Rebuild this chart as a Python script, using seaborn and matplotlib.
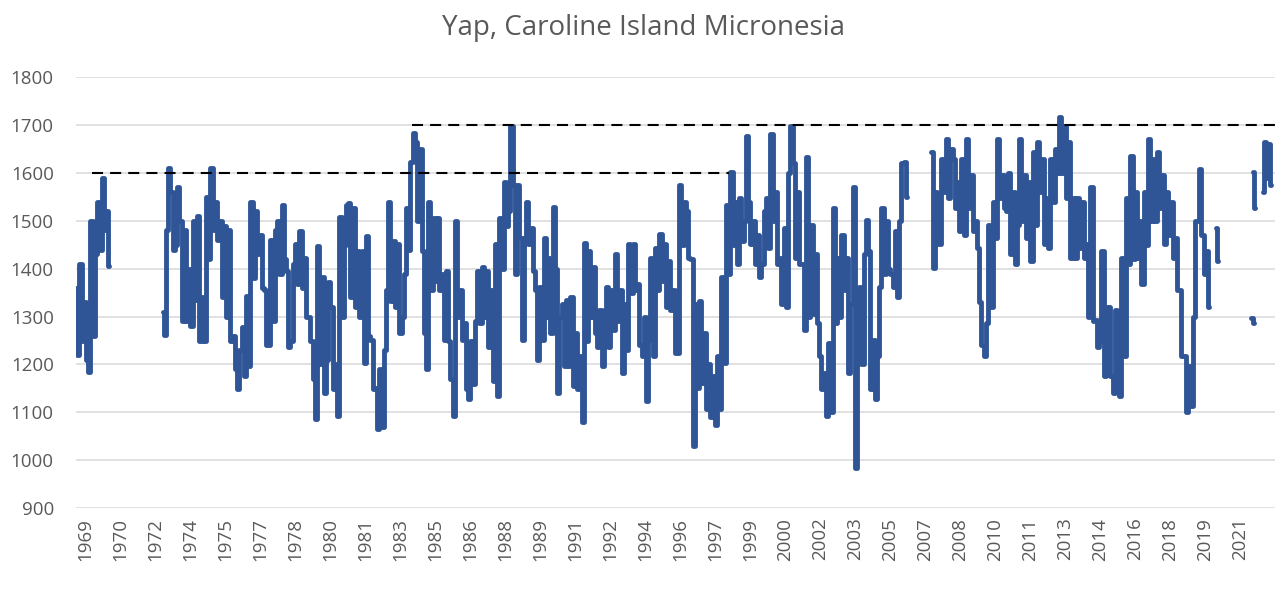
import numpy as np
import pandas as pd
import seaborn as sns
import matplotlib.pyplot as plt

# sea level (mm), values every 0.1 year
seg_1969 = [1360, 1220, 1410, 1250, 1330, 1210, 1185, 1500, 1260, 1430,
            1540, 1440, 1590, 1480, 1520, 1405]

seg_1972 = [1310, 1262, 1480, 1610, 1560, 1440, 1450, 1570, 1500, 1290,
            1480, 1290, 1400, 1280, 1500, 1335, 1510, 1250, 1340, 1248,
            1550, 1420, 1610, 1480, 1540, 1460, 1500, 1340, 1490, 1300,
            1480, 1250, 1260, 1190, 1148, 1230, 1278, 1175, 1344, 1196,
            1540, 1380, 1520, 1430, 1470, 1360, 1355, 1240, 1240, 1460,
            1290, 1480, 1500, 1390, 1533, 1420, 1396, 1237, 1250, 1410,
            1451, 1368, 1478, 1360, 1423, 1300, 1300, 1250, 1169, 1086,
            1447, 1200, 1382, 1141, 1210, 1372, 1320, 1148, 1200, 1093,
            1509, 1300, 1450, 1533, 1537, 1340, 1526, 1320, 1437, 1299,
            1437, 1203, 1468, 1260, 1251, 1148, 1150, 1066, 1190, 1070,
            1230, 1355, 1540, 1333, 1458, 1320, 1451, 1265, 1299, 1389,
            1526, 1440, 1622, 1684, 1664, 1500, 1650, 1437, 1265, 1190,
            1540, 1355, 1506, 1375, 1506, 1355, 1389, 1251, 1396, 1250,
            1169, 1093, 1499, 1300, 1355, 1251, 1286, 1148, 1127, 1250,
            1160, 1290, 1396, 1286, 1403, 1299, 1396, 1237, 1355, 1165,
            1451, 1134, 1506, 1400, 1582, 1490, 1520, 1698, 1575, 1389,
            1575, 1465, 1251, 1465, 1540, 1451, 1485, 1396, 1355, 1210,
            1361, 1251, 1465, 1300, 1423, 1265, 1530, 1400, 1141, 1300,
            1327, 1196, 1334, 1196, 1341, 1155, 1265, 1148, 1217, 1079,
            1454, 1250, 1437, 1300, 1403, 1265, 1237, 1313, 1196, 1310,
            1361, 1237, 1355, 1272, 1430, 1290, 1355, 1182, 1327, 1230,
            1451, 1350, 1451, 1355, 1368, 1240, 1217, 1300, 1124, 1251,
            1423, 1217, 1444, 1355, 1472, 1375, 1451, 1320, 1416, 1313,
            1355, 1224, 1224, 1575, 1450, 1540, 1520, 1423, 1420, 1030,
            1327, 1150, 1333, 1162, 1265, 1107, 1200, 1090, 1176, 1073,
            1217, 1107, 1382, 1203, 1533, 1389, 1602, 1450, 1540, 1409,
            1547, 1458, 1500, 1677, 1540, 1451, 1499, 1409, 1471, 1382,
            1410, 1520, 1547, 1444, 1681, 1500, 1561, 1409, 1423, 1327,
            1485, 1320, 1600, 1698, 1620, 1423, 1561, 1409, 1409, 1272,
            1633, 1300, 1492, 1306, 1430, 1286, 1217, 1148, 1183, 1093,
            1245, 1100, 1526, 1286, 1423, 1300, 1471, 1355, 1423, 1183,
            1327, 1571, 983, 1300, 1361, 1200, 1430, 1502, 1437, 1148,
            1251, 1128, 1217, 1361, 1526, 1389, 1500, 1400, 1389, 1361,
            1478, 1340, 1500, 1620, 1622, 1550]

seg_2007 = [1643, 1402, 1561, 1451, 1451, 1629, 1560, 1671, 1547, 1650,
            1629, 1526, 1581, 1478, 1629, 1471, 1671, 1526, 1595, 1478,
            1500, 1444, 1330, 1240, 1217, 1286, 1492, 1320, 1540, 1465,
            1671, 1547, 1595, 1526, 1520, 1600, 1430, 1560, 1409, 1492,
            1671, 1500, 1595, 1465, 1581, 1416, 1643, 1492, 1664, 1561,
            1629, 1451, 1547, 1444, 1629, 1540, 1650, 1600, 1718, 1600,
            1698, 1547, 1664, 1423, 1547, 1423, 1547, 1444, 1540, 1423,
            1451, 1300, 1571, 1290, 1293, 1237, 1250, 1437, 1176, 1320,
            1320, 1176, 1141, 1313, 1231, 1134, 1423, 1217, 1547, 1409,
            1636, 1420, 1561, 1423, 1499, 1368, 1561, 1450, 1671, 1500,
            1629, 1499, 1643, 1526, 1595, 1451, 1561, 1471, 1540, 1423,
            1465, 1355, 1355, 1217, 1217, 1100, 1196, 1114, 1300, 1500,
            1500, 1609, 1471, 1389, 1437, 1320]

seg_2020 = [1485, 1416]
seg_2021a = [1296, 1286]
seg_2021b = [1602, 1526]
seg_2022 = [1560, 1664, 1590, 1660, 1575]

seg_values = [seg_1969, seg_1972, seg_2007, seg_2020, seg_2021a, seg_2021b, seg_2022]
seg_starts = [1968.9, 1972.8, 2007.4, 2020.2, 2021.8, 2021.85, 2022.3]

# dashed reference levels
ref_levels = [1600, 1700]
ref_from = [1969.6, 1984.0]
ref_to = [1998.3, 2023.0]

tick_labels = ['1969', '1970', '1972', '1974', '1975', '1977', '1978', '1980',
               '1981', '1983', '1985', '1986', '1988', '1989', '1991', '1992',
               '1994', '1996', '1997', '1999', '2000', '2002', '2003', '2005',
               '2007', '2008', '2010', '2011', '2013', '2014', '2016', '2018',
               '2019', '2021']

frames = []
for k, (start, vals) in enumerate(zip(seg_starts, seg_values)):
    frames.append(pd.DataFrame({'year': start + 0.1 * np.arange(len(vals)),
                                'level': vals, 'segment': k}))
df = pd.concat(frames, ignore_index=True)

sns.set_style('white')
plt.rcParams['font.family'] = ['Open Sans', 'DejaVu Sans']
grey = '#595959'

fig = plt.figure(figsize=(12.77, 5.9), dpi=100)
ax = fig.add_axes([76 / 1277, 1 - 508 / 590, 1199 / 1277, (508 - 77.3) / 590])

for lvl, a, b in zip(ref_levels, ref_from, ref_to):
    ax.plot([a, b], [lvl, lvl], color='black', linewidth=1.5,
            dashes=(5.3, 3.4), zorder=3)

sns.lineplot(data=df, x='year', y='level', units='segment', estimator=None,
             color='#2F5597', linewidth=3.5, drawstyle='steps-mid',
             ax=ax, legend=False, zorder=2)

ax.set_ylim(900, 1800)
ax.set_xlim(1968.9, 2022.86)
ax.set_yticks(np.arange(900, 1801, 100))
ax.set_xticks(1969.305 + 1.575 * np.arange(len(tick_labels)))
ax.set_xticklabels(tick_labels, rotation=90)
ax.grid(axis='y', color='#d9d9d9', linewidth=1.1)
ax.grid(axis='x', visible=False)
ax.set_axisbelow(True)
for s in ax.spines.values():
    s.set_visible(False)
ax.tick_params(axis='y', length=0, pad=16, labelsize=13.5, labelcolor=grey)
ax.tick_params(axis='x', length=0, pad=7, labelsize=13.5, labelcolor=grey)
ax.set_xlabel('')
ax.set_ylabel('')

fig.text(0.504, 0.953, 'Yap, Caroline Island Micronesia', ha='center',
         va='center', fontsize=20, color=grey)

fig.savefig('out.png', dpi=100)
